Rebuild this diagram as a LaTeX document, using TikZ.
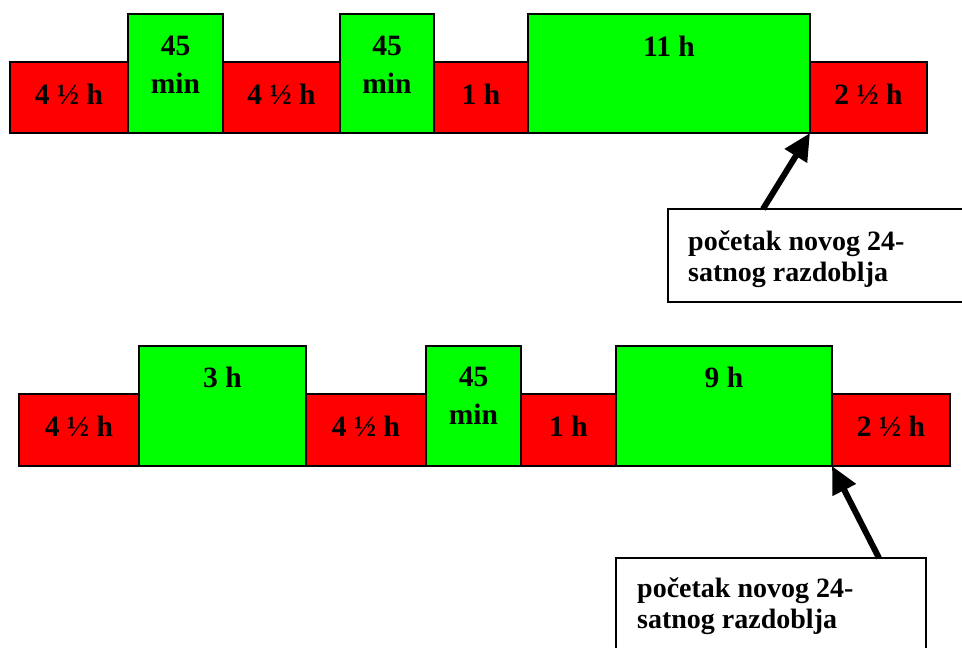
\documentclass[tikz,border=0pt]{standalone}
\usepackage{fontspec}
\setmainfont{Liberation Serif}
\usetikzlibrary{arrows.meta}
\begin{document}
\begin{tikzpicture}[x=1pt,y=-1pt,
  seg/.style={draw=black, line width=2.5pt, inner sep=0pt, outer sep=0pt},
  rseg/.style={seg, fill=red},
  gseg/.style={seg, fill=green},
  lbl/.style={anchor=base, inner sep=0pt, align=center, font=\fontsize{29.5}{38}\selectfont\bfseries},
  callbox/.style={draw=black, line width=2.5pt, fill=white, anchor=north west, inner sep=0pt, outer sep=0pt},
  ctext/.style={anchor=base west, inner sep=0pt, align=left, font=\fontsize{28}{31}\selectfont\bfseries},
  pointer/.style={line width=6pt, -{Triangle[length=27pt,width=25pt]}}
]
\useasboundingbox (0,0) rectangle (962,648);

% ---------- top row ----------
\node[rseg, minimum width=118pt, minimum height=71pt]  (ta1) at (69,97.5) {};
\node[gseg, minimum width=95pt,  minimum height=119pt] (ta2) at (175.5,73.5) {};
\node[rseg, minimum width=117pt, minimum height=71pt]  (ta3) at (281.5,97.5) {};
\node[gseg, minimum width=94pt,  minimum height=119pt] (ta4) at (387,73.5) {};
\node[rseg, minimum width=94pt,  minimum height=71pt]  (ta5) at (481,97.5) {};
\node[gseg, minimum width=282pt, minimum height=119pt] (ta6) at (669,73.5) {};
\node[rseg, minimum width=117pt, minimum height=71pt]  (ta7) at (868.5,97.5) {};

\node[lbl] (tl1) at (69,104) {4 ½ h};
\node[lbl] (tl2) at (175.5,93) {45\\min};
\node[lbl] (tl3) at (281.5,104) {4 ½ h};
\node[lbl] (tl4) at (387,93) {45\\min};
\node[lbl] (tl5) at (481,104) {1 h};
\node[lbl] (tl6) at (669,56) {11 h};
\node[lbl] (tl7) at (868.5,104) {2 ½ h};

% ---------- bottom row ----------
\node[rseg, minimum width=120pt, minimum height=72pt]  (ba1) at (79,430) {};
\node[gseg, minimum width=167pt, minimum height=120pt] (ba2) at (222.5,406) {};
\node[rseg, minimum width=120pt, minimum height=72pt]  (ba3) at (366,430) {};
\node[gseg, minimum width=95pt,  minimum height=120pt] (ba4) at (473.5,406) {};
\node[rseg, minimum width=95pt,  minimum height=72pt]  (ba5) at (568.5,430) {};
\node[gseg, minimum width=216pt, minimum height=120pt] (ba6) at (724,406) {};
\node[rseg, minimum width=118pt, minimum height=72pt]  (ba7) at (891,430) {};

\node[lbl] (bl1) at (79,436) {4 ½ h};
\node[lbl] (bl2) at (222.5,387) {3 h};
\node[lbl] (bl3) at (366,436) {4 ½ h};
\node[lbl] (bl4) at (473.5,424) {45\\min};
\node[lbl] (bl5) at (568.5,436) {1 h};
\node[lbl] (bl6) at (724,387) {9 h};
\node[lbl] (bl7) at (891,436) {2 ½ h};

% ---------- callouts ----------
\node[callbox, minimum width=310pt, minimum height=93pt] (c1) at (668,209) {};
\node[ctext] (ct1) at (688,281) {početak novog 24-\\satnog razdoblja};
\coordinate (t1) at (763,209);
\draw[pointer] (t1) -- (ta6.south east);

\node[callbox, minimum width=310pt, minimum height=130pt] (c2) at (616,558) {};
\node[ctext] (ct2) at (637,628) {početak novog 24-\\satnog razdoblja};
\coordinate (t2) at (879,558);
\draw[pointer] (t2) -- (ba6.south east);
\end{tikzpicture}
\end{document}
